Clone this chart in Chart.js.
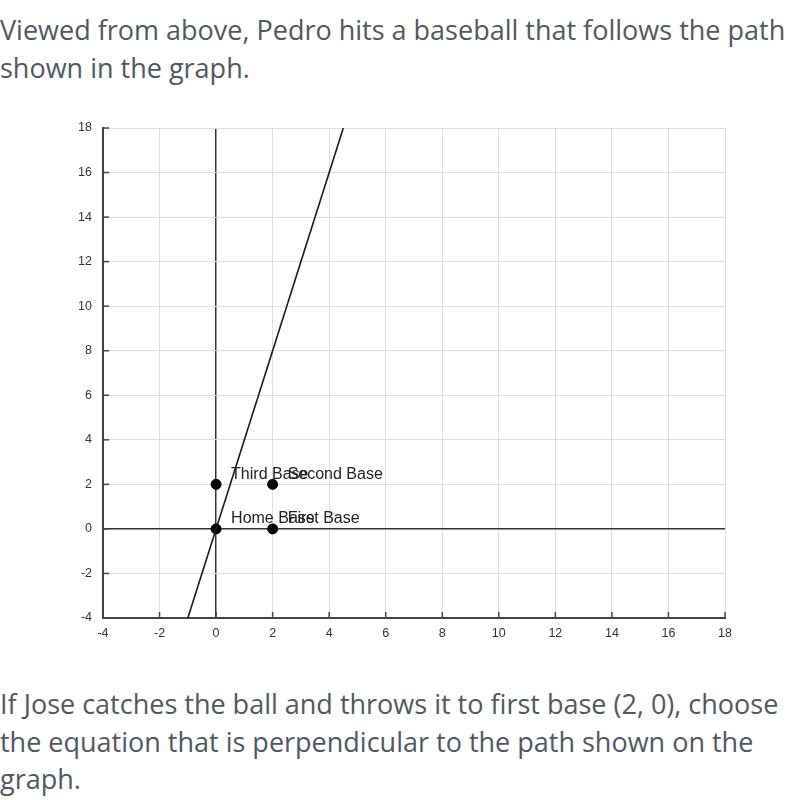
<!DOCTYPE html>
<html>
<head>
<meta charset="utf-8">
<script src="https://cdn.jsdelivr.net/npm/chart.js@4.4.1/dist/chart.umd.min.js"></script>
<style>
    body { margin: 0; background: #fff; width: 800px; height: 800px; position: relative; overflow: hidden; }
    .txt { position: absolute; left: 0; font-family: 'Open Sans', sans-serif; font-size: 27px; line-height: 37.5px; color: #515762; white-space: nowrap; }
    #chartBox { position: absolute; left: 0; top: 100px; width: 800px; height: 560px; }
</style>
</head>
<body>
<div class="txt" style="top: 11px;">Viewed from above, Pedro hits a baseball that follows the path<br>shown in the graph.</div>
<div id="chartBox"><canvas id="pathChart"></canvas></div>
<div class="txt" style="top: 685px;">If Jose catches the ball and throws it to first base (2, 0), choose<br>the equation that is perpendicular to the path shown on the<br>graph.</div>
<script>
// axis range
const axisMin = -4;
const axisMax = 18;
const tickStep = 2;

// path of the ball (y = 4x)
const pathX = [-1, 4.5];
const pathY = [-4, 18];

// bases
const baseNames = ['Home Base', 'First Base', 'Second Base', 'Third Base'];
const baseX = [0, 2, 2, 0];
const baseY = [0, 0, 2, 2];

document.addEventListener('DOMContentLoaded', function() {
    // labels next to the base points + inward tick marks
    const extras = {
        id: 'extras',
        afterDatasetsDraw(chart) {
            const ctx = chart.ctx;
            const xs = chart.scales.x, ys = chart.scales.y;
            ctx.save();
            ctx.strokeStyle = '#444';
            ctx.lineWidth = 1.5;
            xs.ticks.forEach(t => {
                const px = xs.getPixelForValue(t.value);
                ctx.beginPath();
                ctx.moveTo(px, ys.bottom);
                ctx.lineTo(px, ys.bottom - 6);
                ctx.stroke();
            });
            ys.ticks.forEach(t => {
                const py = ys.getPixelForValue(t.value);
                ctx.beginPath();
                ctx.moveTo(xs.left, py);
                ctx.lineTo(xs.left + 6, py);
                ctx.stroke();
            });
            ctx.fillStyle = '#222';
            ctx.font = '16px "Liberation Sans", Arial, sans-serif';
            ctx.textBaseline = 'middle';
            baseNames.forEach((name, i) => {
                ctx.fillText(name, xs.getPixelForValue(baseX[i]) + 15, ys.getPixelForValue(baseY[i]) - 10);
            });
            ctx.restore();
        }
    };

    const gridColor = c => c.tick.value === 0 ? '#333' : '#dedede';
    const gridWidth = c => c.tick.value === 0 ? 1.5 : 1;
    const tickFont = { family: '"Liberation Sans", Arial, sans-serif', size: 12.5 };

    new Chart(document.getElementById('pathChart'), {
        type: 'scatter',
        data: {
            datasets: [{
                data: pathX.map((x, i) => ({ x: x, y: pathY[i] })),
                showLine: true,
                borderColor: '#1a1a1a',
                borderWidth: 1.6,
                pointRadius: 0
            }, {
                data: baseX.map((x, i) => ({ x: x, y: baseY[i] })),
                backgroundColor: '#000',
                borderColor: '#000',
                pointRadius: 5,
                showLine: false
            }]
        },
        options: {
            responsive: true,
            maintainAspectRatio: false,
            animation: false,
            layout: { padding: { top: 28, right: 75, left: 0, bottom: 0 } },
            plugins: { legend: { display: false }, tooltip: { enabled: false } },
            scales: {
                x: {
                    min: axisMin, max: axisMax,
                    ticks: { stepSize: tickStep, color: '#333', font: tickFont, padding: 8 },
                    grid: { color: gridColor, lineWidth: gridWidth, drawTicks: false },
                    border: { color: '#444', width: 2 },
                    afterFit: s => { s.height = 42; }
                },
                y: {
                    min: axisMin, max: axisMax,
                    ticks: { stepSize: tickStep, color: '#333', font: tickFont, padding: 11 },
                    grid: { color: gridColor, lineWidth: gridWidth, drawTicks: false },
                    border: { color: '#444', width: 2 },
                    afterFit: s => { s.width = 103; }
                }
            }
        },
        plugins: [extras]
    });
});
</script>
</body>
</html>
